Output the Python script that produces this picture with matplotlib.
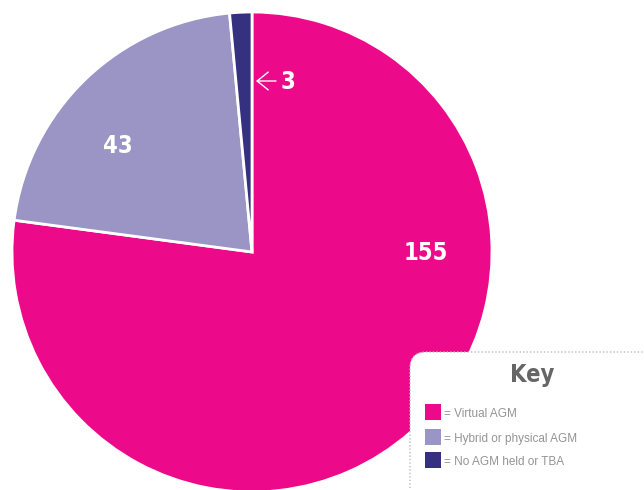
import matplotlib
matplotlib.use("Agg")
import matplotlib.pyplot as plt
from matplotlib.patches import FancyBboxPatch, Rectangle

# AGM format counts
labels = ["Virtual AGM", "Hybrid or physical AGM", "No AGM held or TBA"]
counts = [155, 43, 3]
colours = ["#EC0A8B", "#9B95C6", "#35307F"]

fig = plt.figure(figsize=(6.44, 4.90), dpi=100)
ax = fig.add_axes([0, 0, 1, 1])

H = 490
cx, cy, r = 252, H - 252, 240

ax.pie(counts, colors=colours, startangle=90, counterclock=False,
       center=(cx, cy), radius=r, frame=True,
       wedgeprops=dict(edgecolor="white", linewidth=2))
ax.set_xlim(0, 644)
ax.set_ylim(0, 490)
ax.set_aspect("equal")
ax.axis("off")

bold = dict(color="white", fontsize=17, fontweight="bold", fontstretch="condensed",
            family="DejaVu Sans", ha="center", va="center")

# value labels
ax.text(426, H - 253, str(counts[0]), **bold)
ax.text(118, H - 146, str(counts[1]), **bold)
ax.text(288, H - 82, str(counts[2]), **bold)
ax.annotate("", xy=(256, H - 81), xytext=(276, H - 81),
            arrowprops=dict(arrowstyle="->,head_length=0.4,head_width=0.32",
                            color="white", lw=1, mutation_scale=20,
                            shrinkA=0, shrinkB=0))

# key box
box = FancyBboxPatch((410, -40), 300, (H - 352) + 40,
                     boxstyle="round,pad=0,rounding_size=16",
                     facecolor="white", edgecolor="#bbbbbb", linewidth=1,
                     linestyle=(0, (1, 1.5)), zorder=5)
ax.add_patch(box)
ax.text(532, H - 375, "Key", color="#666666", fontsize=17, fontweight="heavy",
        fontstretch="condensed", family="DejaVu Sans",
        ha="center", va="center", zorder=6)

row_y = [404, 429, 452]
for lab, col, y in zip(labels, colours, row_y):
    ax.add_patch(Rectangle((425, H - y - 16), 16, 16, facecolor=col,
                           edgecolor="none", zorder=6))
    ax.text(444, H - y - 10, "= " + lab, color="#949494", fontsize=8.5,
            ha="left", va="center", family=["Liberation Sans", "DejaVu Sans"],
            zorder=6)

fig.savefig("out.png", dpi=100)
